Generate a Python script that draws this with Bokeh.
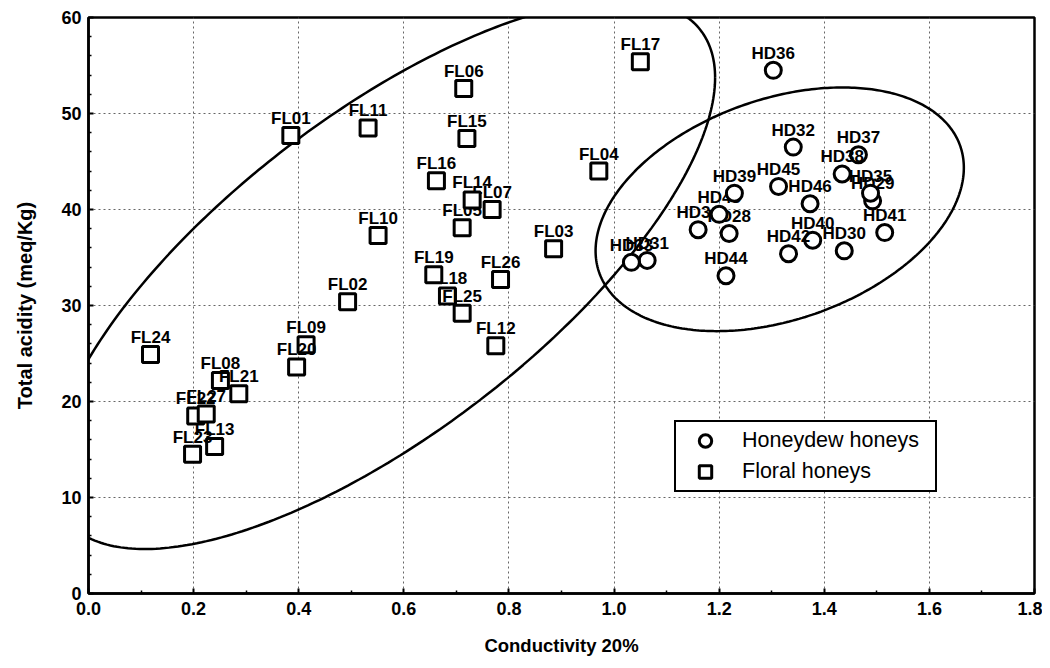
import numpy as np
from bokeh.plotting import figure
from bokeh.models import (Range1d, FixedTicker, Legend, LegendItem, ColumnDataSource)
from bokeh.embed import file_html
from bokeh.resources import INLINE
from bokeh.core.properties import value

# ---------------- data ----------------
fl_labels = ["FL01", "FL02", "FL03", "FL04", "FL05", "FL06", "FL07", "FL08", "FL09",
             "FL10", "FL11", "FL12", "FL13", "FL14", "FL15", "FL16", "FL17", "FL18",
             "FL19", "FL20", "FL21", "FL22", "FL23", "FL24", "FL25", "FL26", "FL27"]
fl_cond = [0.385, 0.493, 0.885, 0.971, 0.711, 0.714, 0.768, 0.251, 0.414,
           0.551, 0.532, 0.775, 0.240, 0.730, 0.720, 0.662, 1.050, 0.683,
           0.657, 0.396, 0.286, 0.204, 0.198, 0.118, 0.711, 0.784, 0.224]
fl_acid = [47.7, 30.4, 35.9, 44.0, 38.1, 52.6, 40.0, 22.2, 25.9,
           37.3, 48.5, 25.8, 15.3, 41.0, 47.4, 43.0, 55.4, 31.0,
           33.2, 23.6, 20.8, 18.5, 14.5, 24.9, 29.2, 32.7, 18.7]

hd_labels = ["HD28", "HD29", "HD30", "HD31", "HD32", "HD33", "HD34", "HD35", "HD36",
             "HD37", "HD38", "HD43", "HD39", "HD40", "HD41", "HD42", "HD44", "HD45", "HD46"]
hd_cond = [1.219, 1.492, 1.438, 1.063, 1.341, 1.033, 1.160, 1.488, 1.303,
           1.465, 1.434, 1.200, 1.229, 1.378, 1.515, 1.332, 1.213, 1.313, 1.373]
hd_acid = [37.5, 40.9, 35.7, 34.7, 46.5, 34.5, 37.9, 41.7, 54.5,
           45.7, 43.7, 39.5, 41.7, 36.8, 37.6, 35.4, 33.1, 42.4, 40.6]

x_tick_values = [0.0, 0.2, 0.4, 0.6, 0.8, 1.0, 1.2, 1.4, 1.6, 1.8]
x_tick_labels = ["0.0", "0.2", "0.4", "0.6", "0.8", "1.0", "1.2", "1.4", "1.6", "1.8"]
y_tick_values = [0, 10, 20, 30, 40, 50, 60]
y_tick_labels = ["0", "10", "20", "30", "40", "50", "60"]

legend_names = ["Honeydew honeys", "Floral honeys"]
x_title = "Conductivity 20%"
y_title = "Total acidity (meq/Kg)"

FONT = "Liberation Sans"

# ---------------- figure ----------------
p = figure(width=1042, height=660, output_backend="svg", toolbar_location=None,
           x_range=Range1d(0, 1.8), y_range=Range1d(0, 60))
p.min_border_left = 88
p.min_border_right = 8
p.min_border_top = 17
p.min_border_bottom = 67
p.background_fill_color = "white"
p.border_fill_color = "white"
p.outline_line_color = "black"
p.outline_line_width = 2.5

x_minor = [(a + b) / 2 for a, b in zip(x_tick_values[:-1], x_tick_values[1:])]
y_minor = [a + (b - a) * k / 5 for a, b in zip(y_tick_values[:-1], y_tick_values[1:]) for k in range(1, 5)]
p.xaxis.ticker = FixedTicker(ticks=x_tick_values, minor_ticks=x_minor)
p.yaxis.ticker = FixedTicker(ticks=y_tick_values, minor_ticks=y_minor)
p.xaxis.major_label_overrides = {v: l for v, l in zip(x_tick_values, x_tick_labels)}
p.yaxis.major_label_overrides = {v: l for v, l in zip(y_tick_values, y_tick_labels)}

for ax in (p.xaxis[0], p.yaxis[0]):
    ax.axis_line_width = 2.5
    ax.axis_line_color = "black"
    ax.major_tick_in = 5
    ax.major_tick_out = 0
    ax.minor_tick_in = 3
    ax.minor_tick_out = 0
    ax.major_tick_line_width = 2
    ax.minor_tick_line_width = 1.5
    ax.major_label_text_font = FONT
    ax.major_label_text_font_style = "bold"
    ax.major_label_text_font_size = "18px"
    ax.major_label_text_color = "black"
    ax.axis_label_text_font = FONT
    ax.axis_label_text_font_style = "bold"
    ax.axis_label_text_color = "black"

p.xaxis.axis_label_text_font_size = "18.5px"
p.yaxis.axis_label_text_font_size = "20px"
p.xaxis.axis_label = x_title
p.yaxis.axis_label = y_title
p.xaxis.major_label_standoff = 8
p.xaxis.axis_label_standoff = 17
p.yaxis.major_label_standoff = 7
p.yaxis.axis_label_standoff = 22

p.grid.grid_line_color = "#666666"
p.grid.grid_line_dash = "2 3"
p.grid.grid_line_width = 1

# ---------------- confidence ellipses (computed from each group's data) ----------------
K95 = np.sqrt(5.991)
theta = np.linspace(0, 2 * np.pi, 361)
for xs, ys in ((fl_cond, fl_acid), (hd_cond, hd_acid)):
    data = np.vstack([xs, ys])
    m = data.mean(axis=1)
    L = np.linalg.cholesky(np.cov(data, ddof=1))
    pts = m[:, None] + K95 * L @ np.vstack([np.cos(theta), np.sin(theta)])
    p.line(pts[0], pts[1], line_color="black", line_width=2.5)

# ---------------- points + labels, drawn point by point ----------------
def draw_group(labels, xs, ys, marker):
    first = None
    for lab, xv, yv in zip(labels, xs, ys):
        src = ColumnDataSource(dict(x=[xv], y=[yv], t=[lab]))
        r = p.scatter("x", "y", source=src, marker=marker, size=16,
                      line_color="black", line_width=3, fill_color="white")
        p.text("x", "y", text="t", source=src, text_font=value(FONT),
               text_font_style="bold", text_font_size="17px", text_color="black",
               text_align="center", text_baseline="alphabetic", y_offset=-17)
        if first is None:
            first = r
    return first

r_fl = draw_group(fl_labels, fl_cond, fl_acid, "square")
r_hd = draw_group(hd_labels, hd_cond, hd_acid, "circle")

legend = Legend(items=[LegendItem(label=legend_names[0], renderers=[r_hd]),
                       LegendItem(label=legend_names[1], renderers=[r_fl])],
                location=(586, 101), orientation="vertical")
legend.glyph_width = 52
legend.glyph_height = 31
legend.spacing = 0
legend.padding = 3
legend.margin = 0
legend.label_standoff = 11
legend.label_width = 190
legend.label_text_font = FONT
legend.label_text_font_size = "21.5px"
legend.label_text_color = "black"
legend.border_line_color = "black"
legend.border_line_alpha = 1.0
legend.border_line_width = 2.5
legend.background_fill_color = "white"
legend.background_fill_alpha = 1.0
p.add_layout(legend, "center")

open("out.html", "w").write(file_html(p, INLINE))
